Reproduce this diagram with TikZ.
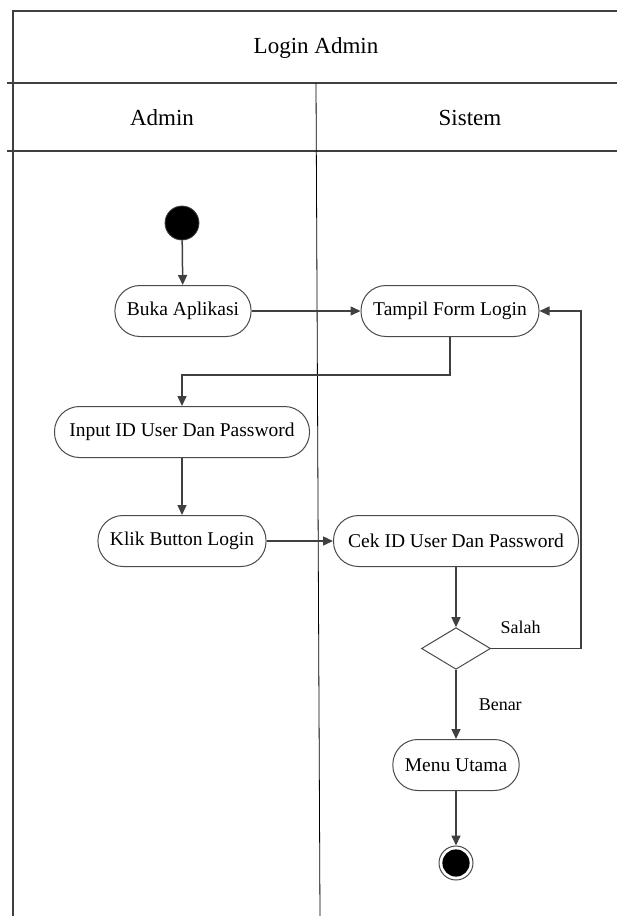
\documentclass[tikz,border=0pt]{standalone}
\usepackage{fontspec}
\setmainfont{Liberation Serif}
\usetikzlibrary{arrows.meta, shapes.geometric}
\definecolor{linegray}{HTML}{404040}
\definecolor{boxgray}{HTML}{4A4A4A}
\tikzset{
    > = {Triangle[length=5pt, width=4.5pt]},
    flow/.style = {->, draw=linegray, line width=0.75pt},
    lane/.style = {draw=linegray, line width=0.7pt},
    divider/.style = {draw=black, line width=0.4pt},
    activity/.style = {rectangle, draw=boxgray, line width=0.5pt, rounded corners=12.5pt,
        minimum height=25.5pt, inner xsep=6pt, font=\fontsize{9.75}{11}\selectfont},
    startdot/.style = {circle, draw=linegray, fill=black, minimum size=17pt, inner sep=0pt},
    enddot/.style = {circle, draw=boxgray, fill=white, line width=0.5pt, minimum size=17pt, inner sep=0pt,
        path picture={\fill[black] (path picture bounding box.center) circle (6.8pt);}},
    decision/.style = {diamond, draw=boxgray, line width=0.5pt, minimum width=34.5pt,
        minimum height=20.8pt, inner sep=0pt},
    header/.style = {font=\fontsize{11.5}{13}\selectfont},
    cond/.style = {font=\fontsize{9}{10}\selectfont, inner sep=0pt}
}
\begin{document}
\begin{tikzpicture}[x=0.5pt, y=-0.5pt]
    \useasboundingbox (0,0) rectangle (617,916);

    % swimlanes
    \draw[lane] (617,11) -- (13,11) -- (13,916);
    \draw[lane] (7,83) -- (617,83);
    \draw[lane] (7,151) -- (617,151);
    \draw[divider] (316,83) -- (320,916);

    \node[header] (title) at (316,48) {Login Admin};
    \node[header] (admin) at (162,118) {Admin};
    \node[header] (sistem) at (470,118) {Sistem};

    % activities
    \node[startdot] (start) at (182,223) {};
    \node[activity, minimum width=67.5pt] (buka) at (183,311) {Buka Aplikasi};
    \node[activity, minimum width=89pt] (tampil) at (450,311) {Tampil Form Login};
    \node[activity, minimum width=127.5pt] (input) at (182,432) {Input ID User Dan Password};
    \node[activity, minimum width=83pt] (klik) at (182,541) {Klik Button Login};
    \node[activity, minimum width=122.5pt] (cek) at (456,541) {Cek ID User Dan Password};
    \node[decision] (cek ok) at (456,648.5) {};
    \node[activity, minimum width=63pt] (menu) at (456,765) {Menu Utama};
    \node[enddot] (end) at (456,863) {};

    \coordinate (split) at (316,375);
    \coordinate (back) at (581,480);

    \draw[flow] (start) -- (buka);
    \draw[flow] (buka) -- (tampil);
    \draw[flow] (tampil.south) -- (tampil.south |- split) -| (input.north);
    \draw[flow] (input) -- (klik);
    \draw[flow] (klik) -- (cek);
    \draw[flow] (cek) -- (cek ok);
    \draw[flow] (cek ok.east) -- node[cond, pos=0.33, above=7pt]{Salah} (cek ok.east -| back)
        -- (back |- tampil.east) -- (tampil.east);
    \draw[flow] (cek ok.south) -- node[cond, right=11pt]{Benar} (menu.north);
    \draw[flow] (menu) -- (end);
\end{tikzpicture}
\end{document}
